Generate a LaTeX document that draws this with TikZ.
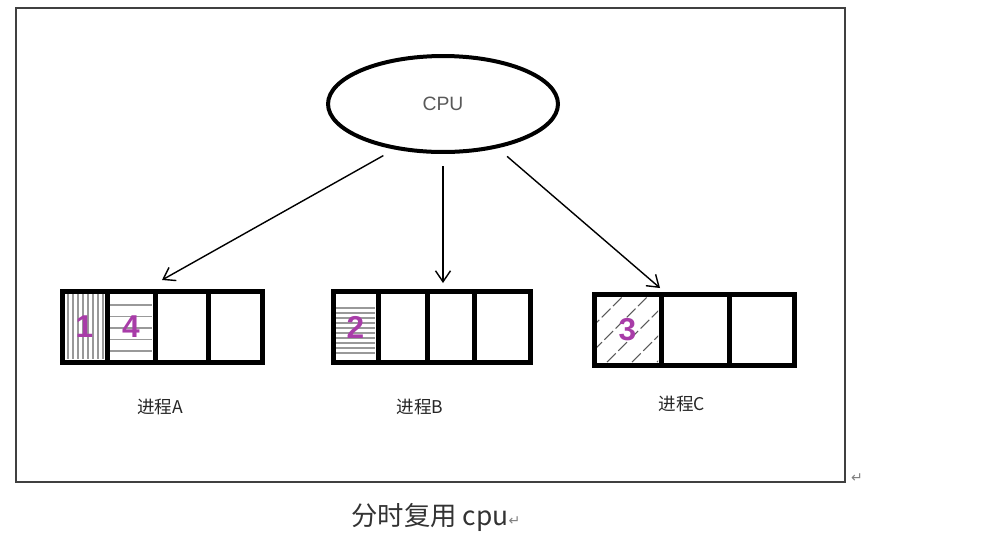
\documentclass[tikz,border=0pt]{standalone}
\usepackage{fontspec}
\setmainfont{Liberation Sans}
\newfontfamily\cjk{Noto Sans CJK SC}
\newfontfamily\symb{DejaVu Sans}
\usetikzlibrary{shapes.geometric,arrows.meta}
\definecolor{numpurple}{HTML}{A83CA8}

\begin{document}
\begin{tikzpicture}
[%%%%%%%%%%%%%%%%%%%%%%%%%%%%%%
x=0.02cm,y=-0.02cm,
cell/.style={rectangle,draw=black,line width=0.1cm,minimum height=1.42cm,inner sep=0pt,
  font=\bfseries\fontsize{18}{18}\selectfont,text=numpurple},
hatch/.style={draw=gray!80,line width=0.6pt},
arrow/.style={-{Straight Barb[length=2.2mm,width=3mm]},line width=0.8pt,shorten <=0.25cm},
procname/.style={font=\cjk\fontsize{10}{10}\selectfont,text=black!85},
]%%%%%%%%%%%%%%%%%%%%%%%%%%%%%%
\useasboundingbox (0,0) rectangle (1000,549);

\draw[line width=0.04cm,black!75] (16,8) rectangle (845,482);
\node[font=\symb\fontsize{8}{8}\selectfont,text=gray] (mark) at (857,478) {↵};

\node[ellipse,draw,line width=0.08cm,minimum width=4.6cm,minimum height=1.92cm,
  font=\fontsize{11}{11}\selectfont,text=black!65] (cpu) at (443,104) {CPU};

% hatching
\foreach \x in {68,73,...,103}
\draw[hatch] (\x,294) -- (\x,359);
\foreach \y in {305,316.5,...,351}
\draw[hatch] (110,\y) -- (152,\y);
\foreach \y in {308,313,...,355}
\draw[hatch] (336,\y) -- (375,\y);
\begin{scope}
\clip (597,297) rectangle (658,362);
\foreach \d in {-40,-15,...,60}
\draw[hatch,draw=black!65,dash pattern=on 7pt off 2pt] (597+\d,362) -- +(70,-70);
\end{scope}

% processes
\foreach \n/\x/\w/\t in {1/84.5/45/1,2/131/48/4,3/181.5/53/{},4/235/54/{}}
\node[cell,minimum width=\w*0.02cm] (a\n) at (\x,326.5) {\t};
\foreach \n/\x/\w/\t in {1/355.5/45/2,2/402.5/49/{},3/450.5/47/{},4/502/56/{}}
\node[cell,minimum width=\w*0.02cm] (b\n) at (\x,327) {\t};
\foreach \n/\x/\w/\t in {1/627.5/67/3,2/695/68/{},3/761.5/65/{}}
\node[cell,minimum width=\w*0.02cm] (c\n) at (\x,329.5) {\t};

\node[procname] (nameA) at (160,407) {进程A};
\node[procname] (nameB) at (420,407) {进程B};
\node[procname] (nameC) at (682,404) {进程C};

\coordinate (tipA) at (162,280);
\coordinate (tipB) at (443,283);
\coordinate (tipC) at (660,288);
\draw[arrow] (cpu.223) -- (tipA);
\draw[arrow] (cpu.270) -- (tipB);
\draw[arrow] (cpu.321) -- (tipC);

\node[font=\cjk\fontsize{15}{15}\selectfont,text=black!80] (caption) at (436,517)
  {分时复用 cpu{\symb\fontsize{8}{8}\selectfont\color{gray}↵}};
\end{tikzpicture}
\end{document}
